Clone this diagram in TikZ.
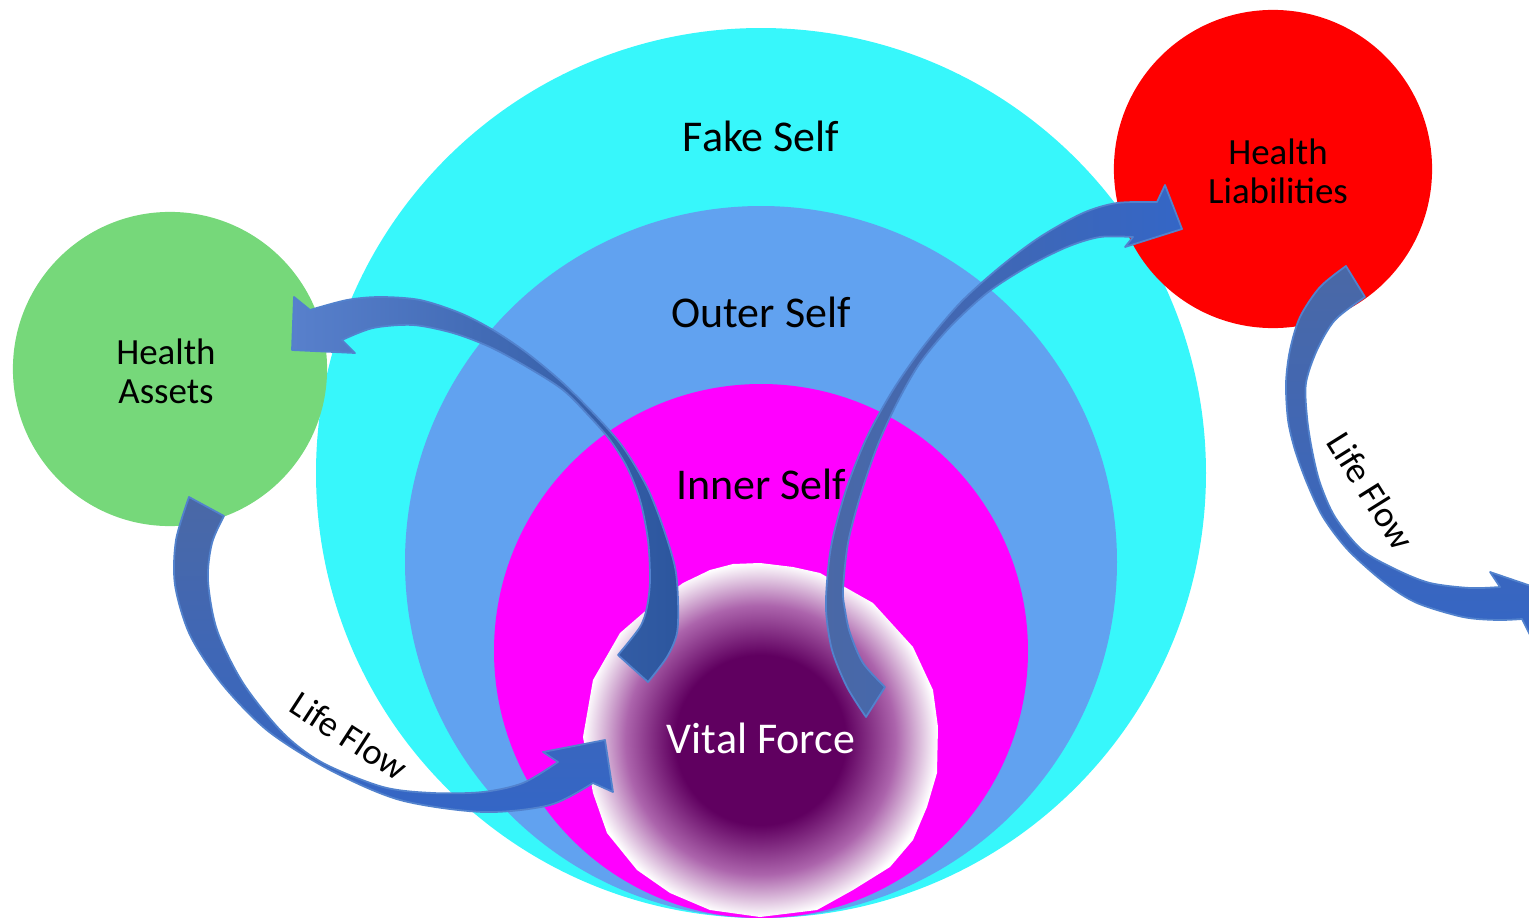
\documentclass[tikz,border=0pt]{standalone}
\usepackage{fontspec}
\setmainfont{Carlito}
\usetikzlibrary{positioning, calc}
\definecolor{SelfCyan}{RGB}{55,247,251}
\definecolor{SelfBlue}{RGB}{97,162,240}
\definecolor{SelfMagenta}{RGB}{255,0,255}
\definecolor{VitalPurple}{RGB}{96,0,96}
\definecolor{VitalMauve}{RGB}{172,100,172}
\definecolor{AssetGreen}{RGB}{118,216,122}
\definecolor{LiabRed}{RGB}{255,0,0}
\definecolor{FlowGrey}{RGB}{74,104,166}
\definecolor{FlowDeep}{RGB}{44,86,158}
\definecolor{FlowBlue}{RGB}{52,102,198}
\definecolor{FlowLight}{RGB}{88,128,204}
\definecolor{FlowEdge}{RGB}{82,130,205}
\pgfdeclareradialshading{vitalglow}{\pgfpoint{0bp}{0bp}}{color(0bp)=(VitalPurple); color(12bp)=(VitalPurple); color(19bp)=(VitalMauve); color(25bp)=(white); color(50bp)=(white)}

\begin{document}
\begin{tikzpicture}[x=0.01cm, y=-0.01cm,
	selfdisc/.style={circle, inner sep=0pt, outer sep=0pt},
	bigtag/.style={font=\fontsize{12.5}{14}\selectfont},
	smalltag/.style={font=\fontsize{10.5}{11.1}\selectfont, align=center},
	flowtag/.style={font=\fontsize{10.4}{12}\selectfont},
	flowarrow/.style={draw=FlowEdge, line width=0.5pt, line join=round}]
	\path[use as bounding box] (0,0) rectangle (1529,918);
	\clip (0,0) rectangle (1529,918);
	% discos concéntricos: centro (761, cy), radio r en px
	\foreach \nm/\cy/\r/\col in {fake/473/445/SelfCyan, outer/562/356/SelfBlue, inner/651/267/SelfMagenta}{
		\node[selfdisc, fill=\col, minimum size=2*\r*0.01cm] (\nm) at (761,\cy) {};
	}
	% núcleo con degradado radial
	\coordinate (vital) at (761,740);
	\shade[shading=vitalglow] plot coordinates {(733,564) (760,563) (793,567) (820,573) (850,590) (873,603)
		(913,647) (933,690) (938,727) (937,773) (927,807) (913,840) (890,867) (853,890) (817,910) (760,917)
		(710,910) (670,893) (637,870) (607,833) (593,793) (583,737) (593,680) (620,633) (650,607) (683,583) (710,570)} -- cycle;
	% activos y pasivos
	\node[selfdisc, fill=AssetGreen, minimum size=3.14cm] (assets) at (170,369) {};
	\node[selfdisc, fill=LiabRed, minimum size=3.18cm] (liabilities) at (1273,169) {};
	% flecha curva: activos -> núcleo
	\shadedraw[flowarrow, top color=FlowGrey, middle color=FlowDeep, bottom color=FlowBlue]
		(224,516) -- plot[smooth] coordinates {(189,497) (176,540) (175,585) (190,635) (222,684) (268,731)
		(330,770) (400,800) (483,812) (550,805) (593,783)}
		-- (613,792) -- (605,740) -- (543,752)
		-- plot[smooth] coordinates {(558,762) (523,783) (483,792) (433,793) (383,787) (323,763) (283,733)
		(243,683) (217,630) (208,580) (212,543) (224,516)} -- cycle;
	% flecha curva: núcleo -> activos
	\shadedraw[flowarrow, left color=FlowLight, middle color=FlowBlue, right color=FlowDeep]
		(618,655) -- plot[smooth] coordinates {(648,682) (667,657) (677,633) (678,600) (675,567) (663,527)
		(647,487) (623,447) (597,417) (563,383) (527,353) (493,330) (460,313) (420,300) (380,297) (347,300) (310,310)}
		-- (294,297) -- (292,350) -- (355,353)
		-- plot[smooth] coordinates {(342,340) (373,328) (413,325) (453,333) (490,347) (527,367) (563,390)
		(590,417) (610,440) (627,467) (640,500) (648,540) (650,580) (647,607) (640,627) (618,655)} -- cycle;
	% flecha curva: núcleo -> pasivos
	\shadedraw[flowarrow, left color=FlowGrey, middle color=FlowLight, right color=FlowBlue]
		(885,687) -- plot[smooth] coordinates {(866,717) (847,687) (832,650) (826,610) (828,570) (833,537)
		(847,487) (867,437) (893,390) (923,347) (960,303) (1000,267) (1040,237) (1083,213) (1117,203) (1157,202)}
		-- (1165,185) -- (1182,229) -- (1125,247)
		-- plot[smooth] coordinates {(1133,237) (1100,237) (1067,247) (1027,267) (987,293) (950,327) (920,363)
		(897,403) (877,447) (860,497) (848,543) (843,590) (845,610) (850,633) (863,663) (885,687)} -- cycle;
	% flecha curva: pasivos -> fuera
	\shadedraw[flowarrow, top color=FlowGrey, bottom color=FlowBlue]
		(1365,297) -- plot[smooth] coordinates {(1346,266) (1320,287) (1300,317) (1290,350) (1286,383) (1288,420)
		(1295,450) (1307,483) (1323,517) (1348,550) (1385,583) (1417,603) (1463,617) (1497,620) (1522,619)}
		-- (1540,655) -- (1578,602) -- (1490,572)
		-- plot[smooth] coordinates {(1500,587) (1470,588) (1430,583) (1397,570) (1362,550) (1335,517)
		(1320,483) (1312,450) (1307,417) (1306,383) (1317,350) (1335,320) (1365,297)} -- cycle;
	% rótulos
	\node[bigtag] (fakelbl) at (761,136) {Fake Self};
	\node[bigtag] (outerlbl) at (761,312) {Outer Self};
	\node[bigtag] (innerlbl) at (761,484) {Inner Self};
	\node[bigtag, text=white] (vitallbl) at (761,738) {Vital Force};
	\node[smalltag] (assetslbl) at (166,371) {Health\\Assets};
	\node[smalltag] (liablbl) at (1278,171) {Health\\Liabilities};
	\node[flowtag, rotate=-33] (flowleft) at (349,736) {Life Flow};
	\node[flowtag, rotate=-58] (flowright) at (1371,491) {Life Flow};
\end{tikzpicture}
\end{document}
